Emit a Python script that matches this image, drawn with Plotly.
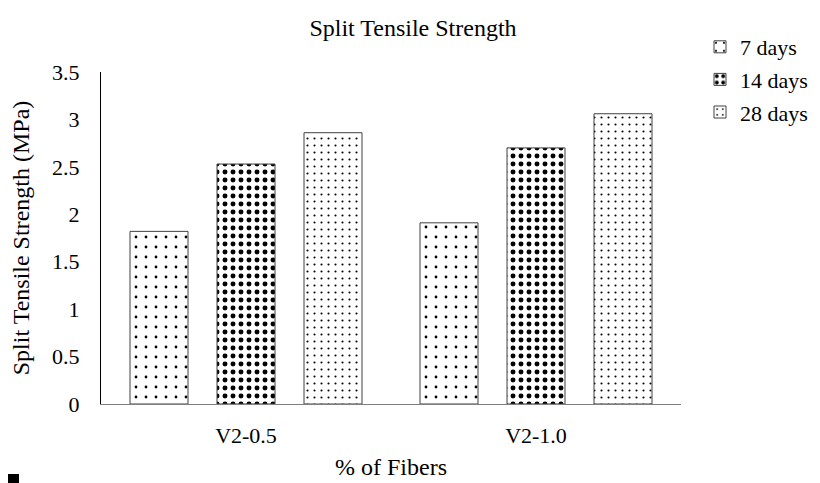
import plotly.graph_objects as go

categories = ["V2-0.5", "V2-1.0"]
series_names = ["7 days", "14 days", "28 days"]
days_7 = [1.82, 1.91]
days_14 = [2.53, 2.70]
days_28 = [2.86, 3.06]

FONT = "Liberation Serif, Times New Roman, serif"

# the page puts the figure 8px in from the top-left corner, so the figure is made 8px smaller
W, H = 812, 475
L, R, T, B = 93, 139, 64, 79
PW, PH = W - L - R, H - T - B

styles = [
    dict(offset=-0.4, size=10, solidity=0.06),
    dict(offset=-0.1, size=8, solidity=0.3),
    dict(offset=0.2, size=7, solidity=0.07),
]

fig = go.Figure()
for name, vals, st in zip(series_names, [days_7, days_14, days_28], styles):
    fig.add_trace(
        go.Bar(
            x=categories,
            y=vals,
            name=name,
            legendgroup=name,
            width=0.2,
            offset=st["offset"],
            marker=dict(
                color="white",
                line=dict(color="#404040", width=1),
                pattern=dict(shape=".", fgcolor="black", bgcolor="white",
                             size=st["size"], solidity=st["solidity"], fillmode="replace"),
            ),
        )
    )

fig.update_layout(
    width=W,
    height=H,
    paper_bgcolor="white",
    plot_bgcolor="white",
    font=dict(family=FONT, size=22, color="black"),
    title=dict(text="Split Tensile Strength", x=405 / W, xref="container", xanchor="center",
               y=1 - 20 / H, yref="container", yanchor="middle",
               font=dict(family=FONT, size=24, color="black")),
    margin=dict(l=L, r=R, t=T, b=B, autoexpand=False),
    barmode="group",
    showlegend=True,
    legend=dict(x=(692 - L) / PW, y=(T + PH - 18) / PH, xanchor="left", yanchor="top",
                font=dict(family=FONT, size=22, color="black"),
                tracegroupgap=1, itemwidth=30, bgcolor="rgba(0,0,0,0)"),
    xaxis=dict(
        title=dict(text="% of Fibers", standoff=10, font=dict(family=FONT, size=24)),
        showline=True, linecolor="#7f7f7f", linewidth=1,
        showgrid=False, ticks="", tickfont=dict(family=FONT, size=22),
        ticklabelstandoff=12,
    ),
    yaxis=dict(
        title=dict(text="Split Tensile Strength (MPa)", standoff=28, font=dict(family=FONT, size=24)),
        range=[0, 3.5], dtick=0.5,
        showline=True, linecolor="black", linewidth=1,
        showgrid=False, zeroline=False, ticks="", tickfont=dict(family=FONT, size=22),
        ticklabelstandoff=16,
    ),
    shapes=[dict(type="rect", xref="paper", yref="paper",
                 x0=-L / PW, x1=(-L + 11) / PW, y0=-B / PH, y1=(-B + 9) / PH,
                 fillcolor="black", line=dict(width=0))],
)

fig.write_html("out.html")
